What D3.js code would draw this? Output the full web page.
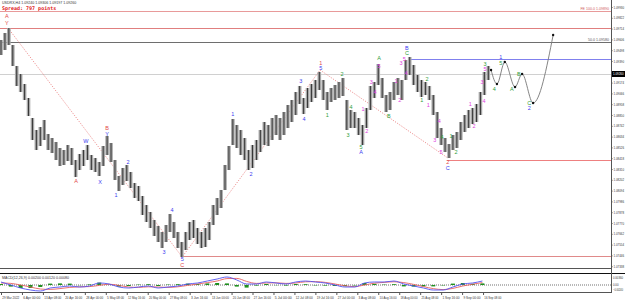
<!DOCTYPE html>
<html lang="en">
<head>
<meta charset="UTF-8">
<title>USDRX,H4</title>
<script src="https://cdn.jsdelivr.net/npm/d3@7"></script>
<style>
  body { margin: 0; background: #fff; }
  svg { display: block; font-family: "Liberation Sans", "DejaVu Sans", sans-serif; }
</style>
</head>
<body>
<script>

var width = 625, height = 301;

// daily bars (one per 6 H4 bars), high and low
var highs = [1.0960,1.0967,1.0972,1.0955,1.0934,1.0926,1.0916,1.0902,1.0882,1.0870,
             1.0873,1.0880,1.0866,1.0862,1.0858,1.0852,1.0850,1.0855,1.0852,1.0840,
             1.0846,1.0850,1.0855,1.0845,1.0842,1.0838,1.0854,1.0864,1.0857,1.0840,
             1.0824,1.0832,1.0835,1.0828,1.0817,1.0814,1.0804,1.0795,1.0788,1.0780,
             1.0774,1.0768,1.0775,1.0786,1.0778,1.0768,1.0758,1.0768,1.0778,1.0780,
             1.0772,1.0768,1.0772,1.0778,1.0795,1.0802,1.0810,1.0835,1.0854,1.0881,
             1.0875,1.0870,1.0862,1.0850,1.0855,1.0860,1.0870,1.0878,1.0875,1.0882,
             1.0885,1.0882,1.0888,1.0895,1.0900,1.0908,1.0914,1.0902,1.0912,1.0916,
             1.0920,1.0928,1.0920,1.0908,1.0912,1.0915,1.0918,1.0922,1.0900,1.0890,
             1.0888,1.0882,1.0875,1.0892,1.0914,1.0918,1.0936,1.0922,1.0905,1.0908,
             1.0918,1.0922,1.0920,1.0940,1.0943,1.0935,1.0925,1.0920,1.0918,1.0914,
             1.0905,1.0888,1.0872,1.0862,1.0856,1.0865,1.0868,1.0878,1.0885,1.0890,
             1.0892,1.0896,1.0908,1.0928,1.0934];
var lows  = [1.0945,1.0950,1.0955,1.0934,1.0914,1.0908,1.0900,1.0884,1.0860,1.0850,
             1.0854,1.0860,1.0850,1.0847,1.0840,1.0834,1.0835,1.0839,1.0835,1.0823,
             1.0830,1.0834,1.0840,1.0830,1.0828,1.0824,1.0834,1.0845,1.0838,1.0820,
             1.0809,1.0815,1.0819,1.0812,1.0802,1.0799,1.0785,1.0778,1.0772,1.0764,
             1.0758,1.0752,1.0758,1.0768,1.0762,1.0752,1.0743,1.0750,1.0760,1.0762,
             1.0756,1.0752,1.0753,1.0760,1.0775,1.0785,1.0792,1.0810,1.0830,1.0855,
             1.0852,1.0845,1.0840,1.0830,1.0832,1.0840,1.0848,1.0855,1.0854,1.0860,
             1.0865,1.0860,1.0865,1.0872,1.0878,1.0885,1.0896,1.0886,1.0892,1.0898,
             1.0902,1.0910,1.0900,1.0890,1.0898,1.0900,1.0902,1.0904,1.0870,1.0872,
             1.0872,1.0865,1.0855,1.0872,1.0890,1.0902,1.0915,1.0902,1.0888,1.0890,
             1.0900,1.0905,1.0900,1.0920,1.0925,1.0915,1.0908,1.0903,1.0905,1.0900,
             1.0885,1.0862,1.0855,1.0848,1.0842,1.0850,1.0852,1.0860,1.0868,1.0872,
             1.0876,1.0878,1.0885,1.0905,1.0920];

var bid = 1.0926;

var priceTicks = [1.09930,1.09822,1.09714,1.09606,1.09498,1.09390,1.09282,1.09174,1.09066,
                  1.08958,1.08850,1.08742,1.08634,1.08526,1.08418,1.08310,1.08202,1.08094,
                  1.07986,1.07878,1.07770,1.07662,1.07554,1.07446,1.07338];

var timeLabels = ["29 Mar 2022","6 Apr 00:00","13 Apr 08:00","20 Apr 16:00","28 Apr 00:00",
                  "5 May 08:00","12 May 16:00","20 May 00:00","27 May 08:00","3 Jun 16:00",
                  "13 Jun 00:00","20 Jun 08:00","27 Jun 16:00","5 Jul 00:00","12 Jul 08:00",
                  "19 Jul 16:00","27 Jul 00:00","3 Aug 08:00","10 Aug 16:00","18 Aug 00:00",
                  "25 Aug 08:00","1 Sep 16:00","9 Sep 00:00","16 Sep 08:00"];

// horizontal levels: price, colour, first day (null = whole width)
var levelPrices = [1.0989, 1.0972, 1.0958, 1.0941, 1.0926, 1.0840, 1.0744];
var levelColors = ["#e89a9a", "#e07f7f", "#6e6e6e", "#8080ee", "#d0d0d0", "#ee8080", "#e08a8a"];
var levelStart  = [null, null, null, 103.6, null, 113.5, 46.3];

// dotted red trend lines (day, price)
var trendDays   = [1.8, 46.1, 81.2, 113.7];
var trendPrices = [1.0972, 1.0743, 1.0930, 1.0842];

// projected path
var projDays   = [124.7, 126.2, 128.2, 130.8, 132.6, 135.4, 140.5];
var projPrices = [1.0930, 1.0916, 1.0938, 1.0913, 1.0926, 1.0897, 1.0965];

// wave labels: day, price, text
var redLabels   = [[1.5,1.0984,"A"],[1.5,1.0977,"Y"],[19.1,1.0819,"A"],[27.0,1.0872,"B"],
                   [46.1,1.0735,"C"],[81.4,1.0937,"1"],[113.7,1.0838,"2"]];
var blueLabels  = [[21.6,1.0859,"W"],[25.2,1.0818,"X"],[27.0,1.0866,"Y"],[29.3,1.0805,"1"],
                   [32.3,1.0838,"2"],[41.5,1.0748,"3"],[43.5,1.0790,"4"],[46.1,1.0741,"5"],
                   [59.0,1.0886,"1"],[63.6,1.0826,"2"],[76.3,1.0919,"3"],[77.1,1.0881,"4"],
                   [81.4,1.0932,"5"],[91.6,1.0848,"A"],[103.3,1.0952,"B"],[113.7,1.0832,"C"],
                   [127.2,1.0943,"1"],[134.4,1.0892,"2"]];
var greenLabels = [[83.0,1.0885,"1"],[86.8,1.0926,"2"],[88.3,1.0865,"3"],[89.1,1.0893,"4"],
                   [91.6,1.0853,"5"],[96.2,1.0942,"A"],[98.7,1.0884,"B"],[103.3,1.0947,"C"],
                   [107.1,1.0900,"1"],[108.4,1.0921,"2"],[112.2,1.0863,"4"],[114.5,1.0864,"1"],
                   [115.8,1.0848,"2"],[123.2,1.0936,"3"],[125.5,1.0911,"4"],[127.2,1.0937,"5"],
                   [130.0,1.0911,"A"],[131.8,1.0926,"B"],[134.4,1.0897,"C"]];
var pinkLabels  = [[92.1,1.0891,"1"],[93.1,1.0869,"2"],[94.2,1.0918,"3"],[95.2,1.0908,"4"],
                   [96.2,1.0934,"5"],[100.5,1.0919,"1"],[101.5,1.0900,"2"],[101.8,1.0937,"3"],
                   [103.1,1.0927,"4"],[102.6,1.0941,"5"],[108.7,1.0895,"1"],[110.4,1.0860,"3"],
                   [111.5,1.0879,"4"],[112.0,1.0848,"5"],[119.4,1.0896,"1"],[120.4,1.0874,"2"],
                   [122.4,1.0918,"3"],[122.9,1.0899,"4"],[123.2,1.0931,"5"]];

// oscillator in the sub window, one value every 2.5 days
var macdMain   = [0.0015,0,-0.0015,-0.0025,-0.003,-0.0015,-0.001,-0.0005,-0.001,-0.0005,
                  0.001,0.0005,-0.001,-0.0015,-0.001,-0.0005,-0.0015,-0.001,-0.0005,0.0005,
                  0.001,0.002,0.003,0.004,0.0025,0.0005,0.0005,0.0015,0.001,0.0005,
                  0.0015,0.002,0.0015,0.001,0,-0.001,-0.001,0.001,0.0015,0.0015,
                  0.002,0.0005,-0.0005,-0.0015,-0.0025,-0.0025,-0.001,0.0005,0.001,0.002];
var macdSignal = [0.001,0.0008,0,-0.001,-0.002,-0.0022,-0.0018,-0.0012,-0.0009,-0.0008,
                  -0.0002,0.0004,-0.0002,-0.001,-0.0012,-0.0009,-0.001,-0.0012,-0.0009,-0.0002,
                  0.0005,0.0012,0.002,0.0032,0.0033,0.0018,0.0008,0.001,0.0011,0.0008,
                  0.001,0.0016,0.0017,0.0013,0.0005,-0.0004,-0.0008,0,0.0009,0.0013,
                  0.0016,0.0012,0.0003,-0.0008,-0.0018,-0.0023,-0.0017,-0.0005,0.0004,0.0012];
var macdHist   = [0.0005,-0.0008,-0.0015,-0.0015,-0.001,0.0007,0.0008,0.0007,-0.0001,0.0003,
                  0.0012,0.0001,-0.0008,-0.0005,0.0002,0.0004,-0.0005,0.0002,0.0004,0.0007,
                  0.0005,0.0008,0.001,0.0008,-0.0008,-0.0013,-0.0003,0.0005,-0.0001,-0.0003,
                  0.0005,0.0004,-0.0002,-0.0003,-0.0005,-0.0006,-0.0002,0.001,0.0006,0.0002,
                  0.0004,-0.0007,-0.0008,-0.0007,-0.0007,-0.0002,0.0007,0.001,0.0006,0.0008];
var subTicks = [0.0036, 0, -0.0024];

var plotRight = 611, mainBottom = 268, subTop = 273, subBottom = 292;

var svg = d3.select("body").append("svg")
    .attr("width", width)
    .attr("height", height);

var x = d3.scaleLinear().domain([0, 124]).range([1, 488.3]);
var y = d3.scaleLinear().domain([1.0732, 1.1000]).range([mainBottom, 0]);
var ySub = d3.scaleLinear().domain([-0.003, 0.004]).range([291, 277]);

// levels
svg.append("g").selectAll("line")
    .data(levelPrices)
    .join("line")
    .attr("x1", (d, i) => levelStart[i] === null ? 0 : x(levelStart[i]))
    .attr("x2", plotRight)
    .attr("y1", d => Math.round(y(d)) + 0.5)
    .attr("y2", d => Math.round(y(d)) + 0.5)
    .attr("stroke", (d, i) => levelColors[i])
    .attr("stroke-width", 1);

svg.append("text").attr("x", 609).attr("y", y(levelPrices[0]) - 1)
    .attr("text-anchor", "end").attr("font-size", 3.6).attr("fill", "#d06060")
    .text("FE 100.0 1.09890");
svg.append("text").attr("x", 609).attr("y", y(levelPrices[2]) - 1)
    .attr("text-anchor", "end").attr("font-size", 3.6).attr("fill", "#555")
    .text("50.0 1.09580");

// dotted trend lines
var trendLine = d3.line().x(d => x(d[0])).y(d => y(d[1]));
svg.append("path")
    .datum(trendDays.map((d, i) => [d, trendPrices[i]]))
    .attr("d", trendLine)
    .attr("fill", "none")
    .attr("stroke", "#e87878")
    .attr("stroke-width", 0.8)
    .attr("stroke-dasharray", "1.2,1.4");

// price bars
var bars = svg.append("g");
bars.selectAll("rect")
    .data(highs)
    .join("rect")
    .attr("x", (d, i) => x(i) - 1.8)
    .attr("width", 3.6)
    .attr("y", d => y(d))
    .attr("height", (d, i) => y(lows[i]) - y(d))
    .attr("fill", "#a8a8a8");
bars.selectAll("line")
    .data(highs)
    .join("line")
    .attr("x1", (d, i) => x(i))
    .attr("x2", (d, i) => x(i))
    .attr("y1", d => y(d))
    .attr("y2", (d, i) => y(lows[i]))
    .attr("stroke", "#1a1a1a")
    .attr("stroke-width", 0.8);

// projection
svg.append("path")
    .datum(projDays.map((d, i) => [d, projPrices[i]]))
    .attr("d", d3.line().x(d => x(d[0])).y(d => y(d[1])).curve(d3.curveMonotoneX))
    .attr("fill", "none")
    .attr("stroke", "#777")
    .attr("stroke-width", 0.9);
svg.append("g").selectAll("circle")
    .data(projDays)
    .join("circle")
    .attr("cx", d => x(d))
    .attr("cy", (d, i) => y(projPrices[i]))
    .attr("r", 1.2)
    .attr("fill", "#111");

// wave labels
function waveLabels(list, color) {
    svg.append("g").selectAll("text")
        .data(list)
        .join("text")
        .attr("x", d => x(d[0]))
        .attr("y", d => y(d[1]) + 2)
        .attr("text-anchor", "middle")
        .attr("font-size", 5.5)
        .attr("fill", color)
        .text(d => d[2]);
}
waveLabels(redLabels, "#e24848");
waveLabels(blueLabels, "#3c3cf0");
waveLabels(greenLabels, "#2f9e3a");
waveLabels(pinkLabels, "#e040e0");

// panel borders
svg.append("line").attr("x1", 0).attr("x2", plotRight).attr("y1", mainBottom + 0.5).attr("y2", mainBottom + 0.5)
    .attr("stroke", "#555");
svg.append("line").attr("x1", 0).attr("x2", width).attr("y1", subTop + 0.5).attr("y2", subTop + 0.5)
    .attr("stroke", "#111");
svg.append("line").attr("x1", 0).attr("x2", plotRight).attr("y1", subBottom + 0.5).attr("y2", subBottom + 0.5)
    .attr("stroke", "#555");

// sub window
var subDays = macdMain.map((d, i) => i * 2.5);
svg.append("line").attr("x1", 0).attr("x2", plotRight)
    .attr("y1", ySub(0)).attr("y2", ySub(0))
    .attr("stroke", "#333").attr("stroke-width", 0.7).attr("stroke-dasharray", "1,1");
svg.append("g").selectAll("rect")
    .data(macdHist)
    .join("rect")
    .attr("x", (d, i) => x(subDays[i]) - 2)
    .attr("width", 4)
    .attr("y", d => Math.min(ySub(d), ySub(0)))
    .attr("height", d => Math.abs(ySub(d) - ySub(0)))
    .attr("fill", "#1f8f1f");
svg.append("path")
    .datum(macdSignal)
    .attr("d", d3.line().x((d, i) => x(subDays[i])).y(d => ySub(d)).curve(d3.curveMonotoneX))
    .attr("fill", "none").attr("stroke", "#e86060").attr("stroke-width", 0.9);
svg.append("path")
    .datum(macdMain)
    .attr("d", d3.line().x((d, i) => x(subDays[i])).y(d => ySub(d)).curve(d3.curveMonotoneX))
    .attr("fill", "none").attr("stroke", "#5050f0").attr("stroke-width", 0.9);
svg.append("text").attr("x", 2).attr("y", 278.5)
    .attr("font-size", 3.6).attr("fill", "#333")
    .text("MACD(12,26,9) 0.00200 0.00120 0.00080");

// right price axis (labels hidden under the bid box are skipped)
var shownTicks = priceTicks.filter(d => Math.abs(y(d) - y(bid)) > 4);
var yAxis = svg.append("g")
    .attr("transform", "translate(" + plotRight + ",0)")
    .call(d3.axisRight(y).tickValues(shownTicks).tickFormat(d3.format(".5f")).tickSize(1.5).tickPadding(1));
yAxis.select(".domain").remove();
yAxis.selectAll("text")
    .attr("font-size", 3.6).attr("fill", "#333")
    .attr("textLength", 10.5).attr("lengthAdjust", "spacingAndGlyphs");
yAxis.selectAll("line").attr("stroke", "#555");
svg.append("line").attr("x1", plotRight + 0.5).attr("x2", plotRight + 0.5).attr("y1", 0).attr("y2", subBottom + 1)
    .attr("stroke", "#555");

svg.append("g").selectAll("text")
    .data(subTicks)
    .join("text")
    .attr("x", plotRight + 2)
    .attr("y", d => ySub(d) + 1.3)
    .attr("font-size", 3.3).attr("fill", "#333")
    .attr("textLength", d => d === 0 ? 5.5 : 10)
    .attr("lengthAdjust", "spacingAndGlyphs")
    .text(d => d === 0 ? "0.00" : d3.format(".5f")(d));

// bid box
svg.append("rect").attr("x", plotRight + 1).attr("y", y(bid) - 3).attr("width", 13).attr("height", 6)
    .attr("fill", "#000");
svg.append("text").attr("x", plotRight + 2).attr("y", y(bid) + 1.3)
    .attr("font-size", 3.6).attr("fill", "#fff")
    .attr("textLength", 10.5).attr("lengthAdjust", "spacingAndGlyphs")
    .text(d3.format(".5f")(bid));

// time axis
var xAxis = svg.append("g")
    .attr("transform", "translate(0," + (subBottom + 1) + ")")
    .call(d3.axisBottom(x).tickValues(timeLabels.map((d, i) => i * 16 / 3))
        .tickFormat((d, i) => timeLabels[i]).tickSize(2).tickPadding(1));
xAxis.select(".domain").remove();
xAxis.selectAll("line").attr("stroke", "#555");
xAxis.selectAll("text").attr("font-size", 3.6).attr("fill", "#333")
    .attr("text-anchor", "start").attr("dx", 0.8)
    .attr("textLength", 17).attr("lengthAdjust", "spacingAndGlyphs");

// header
svg.append("text").attr("x", 2).attr("y", 4.2).attr("font-size", 3.6).attr("fill", "#333")
    .text("USDRX,H4  1.09240 1.09306 1.09197 1.09260");
svg.append("text").attr("x", 2).attr("y", 9.5).attr("font-size", 5).attr("fill", "#e02020")
    .attr("font-family", "DejaVu Sans Mono").attr("font-weight", "bold")
    .text("Spread: 797 points");

</script>
</body>
</html>
